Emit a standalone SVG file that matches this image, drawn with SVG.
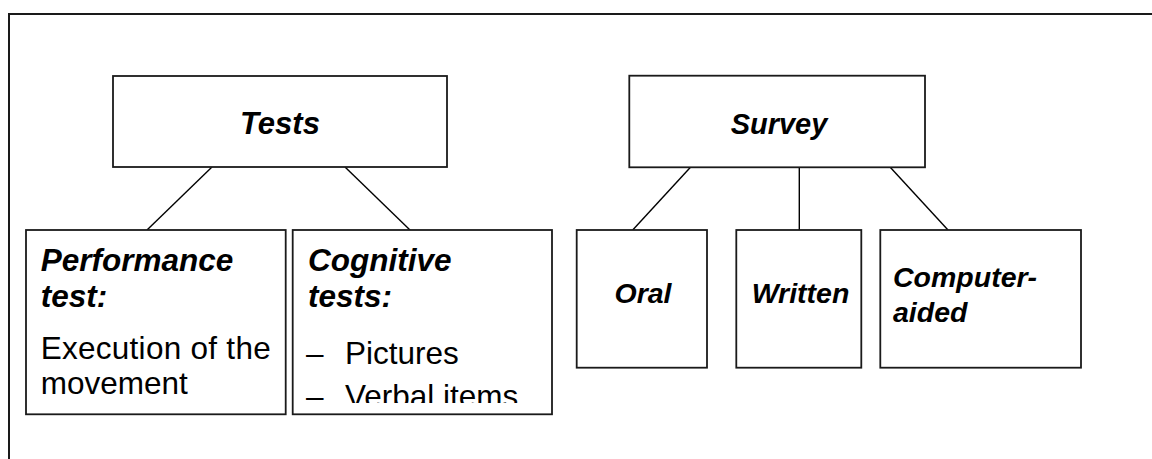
<svg xmlns="http://www.w3.org/2000/svg" width="1152" height="459" viewBox="0 0 1152 459">
<style>
.box{fill:#fff;stroke:#1a1a1a;stroke-width:1.8}
.frame{fill:none;stroke:#1a1a1a;stroke-width:2}
.conn{stroke:#000;stroke-width:1.4;fill:none}
.h{font-family:"Liberation Sans",Arial,sans-serif;font-weight:bold;font-style:italic;fill:#000}
.t{font-family:"Liberation Sans",Arial,sans-serif;fill:#000}
</style>
<defs>
<clipPath id="cogclip"><rect x="293" y="231" width="258" height="172"/></clipPath>
</defs>
<rect width="1152" height="459" fill="#fff"/>
<path class="frame" d="M9,459 V14 H1152"/>
<g id="connectors">
<line class="conn" x1="212" y1="167" x2="147" y2="230"/>
<line class="conn" x1="345" y1="167" x2="410" y2="230"/>
<line class="conn" x1="690.7" y1="167" x2="632.7" y2="230"/>
<line class="conn" x1="799.3" y1="167" x2="799.3" y2="230"/>
<line class="conn" x1="890" y1="167" x2="948" y2="230"/>
</g>
<g id="tests">
<rect class="box" x="113" y="76" width="334" height="91"/>
<text class="h" x="280" y="134" font-size="31" text-anchor="middle">Tests</text>
</g>
<g id="survey">
<rect class="box" x="629.3" y="75.7" width="295.7" height="91.6"/>
<text class="h" x="779" y="134" font-size="29" text-anchor="middle">Survey</text>
</g>
<g id="performance">
<rect class="box" x="26" y="230" width="259.7" height="184.3"/>
<text class="h" x="40.7" y="271" font-size="31.5">Performance</text>
<text class="h" x="40.7" y="307" font-size="31.5">test:</text>
<text class="t" x="40.7" y="359" font-size="31.5" textLength="230" lengthAdjust="spacing">Execution of the</text>
<text class="t" x="40.7" y="394" font-size="31.5">movement</text>
</g>
<g id="cognitive">
<rect class="box" x="292.7" y="230" width="259.3" height="184.3"/>
<text class="h" x="308" y="271" font-size="31.5">Cognitive</text>
<text class="h" x="308" y="307" font-size="31.5">tests:</text>
<g clip-path="url(#cogclip)">
<text class="t" x="306" y="364" font-size="31.5">–</text>
<text class="t" x="345" y="364" font-size="31.5">Pictures</text>
<text class="t" x="306" y="407" font-size="31.5">–</text>
<text class="t" x="345" y="407" font-size="31.5">Verbal items</text>
</g>
</g>
<g id="oral">
<rect class="box" x="576.7" y="230" width="130.3" height="137.7"/>
<text class="h" x="643" y="303" font-size="28.5" text-anchor="middle">Oral</text>
</g>
<g id="written">
<rect class="box" x="736.3" y="230" width="125" height="137.7"/>
<text class="h" x="800.5" y="303" font-size="28.5" text-anchor="middle">Written</text>
</g>
<g id="computer">
<rect class="box" x="880.3" y="230" width="200.7" height="137.7"/>
<text class="h" x="893" y="287" font-size="28.5">Computer-</text>
<text class="h" x="893" y="322" font-size="28.5">aided</text>
</g>
</svg>
